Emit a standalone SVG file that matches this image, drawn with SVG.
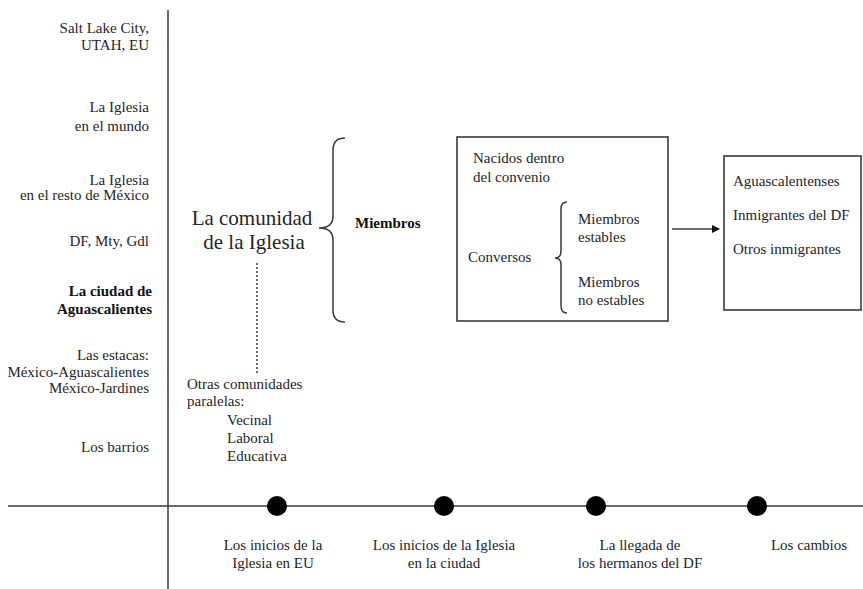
<svg xmlns="http://www.w3.org/2000/svg" width="863" height="589" viewBox="0 0 863 589">
<style>
text{font-family:'Liberation Serif','Tinos','DejaVu Serif',serif;font-size:15px;fill:#262626}
.r{text-anchor:end}
.m{text-anchor:middle}
.b{font-weight:bold;fill:#111}
.big{font-size:21px}
.ln{stroke:#3a3a3a;stroke-width:1.5;fill:none}
.box{stroke:#3a3a3a;stroke-width:1.6;fill:#fff}
.dot{fill:#000}
</style>
<defs>
<marker id="ah" markerWidth="8" markerHeight="8" refX="7" refY="4" orient="auto" markerUnits="userSpaceOnUse">
<path d="M0,0 L8,4 L0,8 Z" fill="#111"/>
</marker>
</defs>
<rect width="863" height="589" fill="#fff"/>

<g id="axes">
<line class="ln" x1="168" y1="10" x2="168" y2="589"/>
<line class="ln" x1="8" y1="506" x2="863" y2="506"/>
</g>

<g font-family="Liberation Serif, serif">
<g id="levels">
<text class="r" x="149" y="33">Salt Lake City,</text>
<text class="r" x="149" y="50">UTAH, EU</text>
<text class="r" x="149" y="112">La Iglesia</text>
<text class="r" x="149" y="131">en el mundo</text>
<text class="r" x="149" y="185">La Iglesia</text>
<text class="r" x="149" y="200">en el resto de México</text>
<text class="r" x="149" y="246">DF, Mty, Gdl</text>
<text class="r b" x="152" y="296">La ciudad de</text>
<text class="r b" x="152" y="314">Aguascalientes</text>
<text class="r" x="149" y="360">Las estacas:</text>
<text class="r" x="149" y="377">México-Aguascalientes</text>
<text class="r" x="149" y="393">México-Jardines</text>
<text class="r" x="149" y="452">Los barrios</text>
</g>

<g id="comunidad">
<text class="m big" x="252" y="225">La comunidad</text>
<text class="m big" x="254" y="249">de la Iglesia</text>
</g>

<g id="otras">
<text x="187" y="389">Otras comunidades</text>
<text x="187" y="406">paralelas:</text>
<text x="227" y="425">Vecinal</text>
<text x="227" y="443">Laboral</text>
<text x="227" y="461">Educativa</text>
</g>

<g id="miembros">
<text class="b" x="355" y="228">Miembros</text>
</g>

<g id="box-miembros">
<rect class="box" x="457" y="137" width="211" height="184"/>
<text x="473" y="163">Nacidos dentro</text>
<text x="473" y="182">del convenio</text>
<text x="468" y="262">Conversos</text>
<text x="578" y="224">Miembros</text>
<text x="578" y="242">estables</text>
<text x="578" y="287">Miembros</text>
<text x="578" y="305">no estables</text>
</g>

<g id="box-origen">
<rect class="box" x="724" y="156" width="137" height="154"/>
<text x="733" y="186">Aguascalentenses</text>
<text x="733" y="220">Inmigrantes del DF</text>
<text x="733" y="254">Otros inmigrantes</text>
</g>

<g id="timeline">
<circle class="dot" cx="277" cy="506" r="10"/>
<circle class="dot" cx="444" cy="506" r="10"/>
<circle class="dot" cx="596" cy="506" r="10"/>
<circle class="dot" cx="757" cy="506" r="10"/>
<text class="m" x="273" y="550">Los inicios de la</text>
<text class="m" x="273" y="568">Iglesia en EU</text>
<text class="m" x="444" y="550">Los inicios de la Iglesia</text>
<text class="m" x="444" y="568">en la ciudad</text>
<text class="m" x="640" y="550">La llegada de</text>
<text class="m" x="640" y="568">los hermanos del DF</text>
<text class="m" x="809" y="550">Los cambios</text>
</g>
</g>

<g id="connectors">
<path class="ln" d="M345,138 C337,138 333,142 333,150 L333,216 C333,224 328,228 319,228 C328,228 333,232 333,240 L333,310 C333,318 337,322 345,322"/>
<path class="ln" stroke-width="1.2" d="M567,202 C563,202 561,205 561,209 L561,251 C561,255 559,258 555,258 C559,258 561,261 561,265 L561,306 C561,310 563,313 567,313"/>
<line class="ln" x1="257" y1="263" x2="257" y2="373" stroke-dasharray="2,2"/>
<line class="ln" x1="672" y1="229" x2="719" y2="229" marker-end="url(#ah)"/>
</g>
</svg>
